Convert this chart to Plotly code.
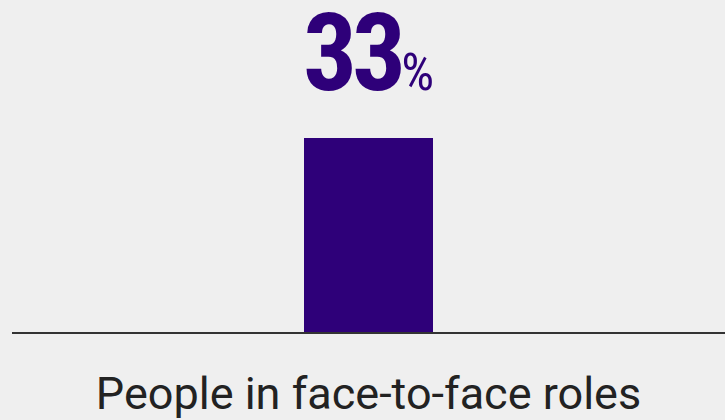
import plotly.graph_objects as go

categories = ["People in face-to-face roles"]
values = [33]
value_labels = ["33"]

BAR = "#2e0079"
BG = "#efefef"

fig = go.Figure(go.Bar(
    x=categories, y=values, marker_color=BAR, marker_line_width=0, width=0.181,
    hoverinfo="skip",
))

for c, v, lab in zip(categories, values, value_labels):
    fig.add_annotation(
        x=c, y=v, xref="x", yref="y", yanchor="bottom", xanchor="center", showarrow=False,
        yshift=20,
        text=(f"<span style='font-stretch:75%;letter-spacing:-5px'><b>{lab}</b></span>"
              f"<span style='font-stretch:75%;font-size:52px'>%</span>"),
        font=dict(family="Roboto, sans-serif", size=107, color=BAR),
    )

fig.update_layout(
    width=725, height=420,
    margin=dict(l=12, r=0, t=38, b=88, autoexpand=False),
    paper_bgcolor=BG, plot_bgcolor=BG,
    showlegend=False,
    bargap=0,
    xaxis=dict(
        range=[-0.5, 0.5], showgrid=False, showline=True, linecolor="#333333", linewidth=1.5,
        ticks="", ticklabelstandoff=21, automargin=False,
        tickfont=dict(family="Roboto, sans-serif", size=45, color="#222222"),
        fixedrange=True,
    ),
    yaxis=dict(range=[0, 50], visible=False, fixedrange=True),
)

fig.write_html("out.html", config={"displayModeBar": False})
